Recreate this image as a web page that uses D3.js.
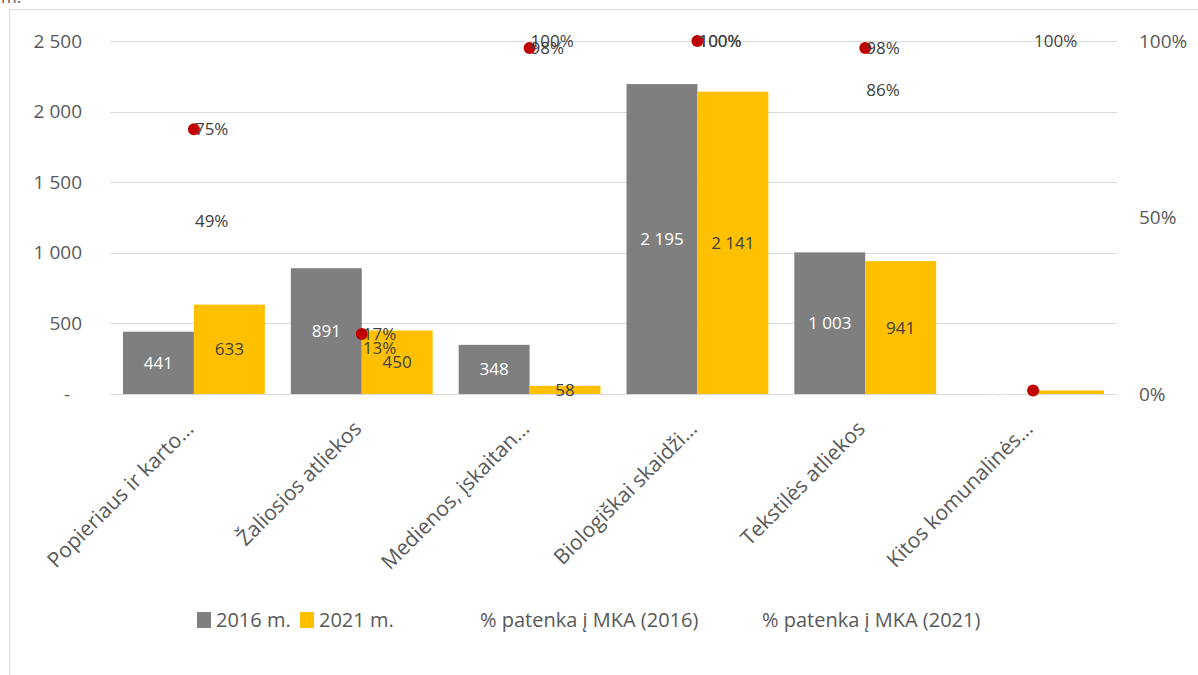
<!DOCTYPE html>
<html>
<head>
<meta charset="utf-8">
<script src="https://cdn.jsdelivr.net/npm/d3@7"></script>
<style>
  body { margin: 0; background: #fff; font-family: "Open Sans", "Noto Sans", sans-serif; }
  svg { display: block; }
</style>
</head>
<body>
<script>
// DATA
var categories = ["Popieriaus ir karto...", "Žaliosios atliekos", "Medienos, įskaitan...",
                  "Biologiškai skaidži...", "Tekstilės atliekos", "Kitos komunalinės..."];
var values2016 = [441, 891, 348, 2195, 1003, 0];
var values2021 = [633, 450, 58, 2141, 941, 25];
var pct2016 = [0.75, 0.17, 0.98, 1.00, 0.98, 0.01];
var pct2021 = [0.49, 0.13, 1.00, 1.00, 0.86, 1.00];
var yTicks = [0, 500, 1000, 1500, 2000, 2500];
var pctTicks = [0, 0.5, 1];
var seriesNames = ["2016 m.", "2021 m.", "% patenka į MKA (2016)", "% patenka į MKA (2021)"];

// STYLE
var GRAY = "#7f7f7f";
var YELLOW = "#ffc000";
var RED = "#c00000";
var TEXT = "#595959";

var width = 1198, height = 675;
var plotLeft = 110, plotRight = 1117, plotTop = 41, plotBottom = 394;

var svg = d3.select('body').append('svg')
    .attr('width', width)
    .attr('height', height);

// chart area border
svg.append('rect')
    .attr('x', 9.5).attr('y', 9.5)
    .attr('width', width + 20).attr('height', height + 20)
    .attr('fill', 'none')
    .attr('stroke', '#d9d9d9');

svg.append('text')
    .attr('x', 1).attr('y', 3)
    .attr('fill', TEXT)
    .style('font-size', '17px')
    .text('m.');

var x0 = d3.scaleBand()
    .domain(categories)
    .range([plotLeft, plotRight])
    .paddingInner(0.155)
    .paddingOuter(0.0775);

var x1 = d3.scaleBand()
    .domain([0, 1])
    .range([0, x0.bandwidth()]);

var y = d3.scaleLinear().domain([0, 2500]).range([plotBottom, plotTop]);
var yPct = d3.scaleLinear().domain([0, 1]).range([plotBottom, plotTop]);

var fmt = function(d) { return d3.format(",")(d).replace(/,/g, " "); };

// gridlines
svg.append('g')
  .selectAll('line')
  .data(yTicks)
  .enter().append('line')
    .attr('x1', plotLeft).attr('x2', plotRight)
    .attr('y1', function(d) { return Math.round(y(d)) + 0.5; })
    .attr('y2', function(d) { return Math.round(y(d)) + 0.5; })
    .attr('stroke', '#d9d9d9')
    .attr('stroke-width', 1);

// left axis
var yAxis = d3.axisLeft(y)
    .tickValues(yTicks)
    .tickSize(0)
    .tickPadding(0)
    .tickFormat(function(d) { return d === 0 ? "-" : fmt(d); });

var gLeft = svg.append('g')
    .attr('transform', 'translate(82,0)')
    .call(yAxis);
gLeft.select('.domain').remove();
gLeft.selectAll('text')
    .attr('fill', TEXT)
    .style('font-family', '"Open Sans", sans-serif')
    .style('font-size', '19px')
    .attr('dx', function(d) { return d === 0 ? -12 : 0; });

// right axis
var yAxisRight = d3.axisRight(yPct)
    .tickValues(pctTicks)
    .tickSize(0)
    .tickPadding(0)
    .tickFormat(d3.format(".0%"));

var gRight = svg.append('g')
    .attr('transform', 'translate(1139,0)')
    .call(yAxisRight);
gRight.select('.domain').remove();
gRight.selectAll('text')
    .attr('fill', TEXT)
    .style('font-family', '"Open Sans", sans-serif')
    .style('font-size', '19px');

// bars
var rows = categories.map(function(c, i) {
  return { cat: c, v: [values2016[i], values2021[i]], p: [pct2016[i], pct2021[i]] };
});

var groups = svg.append('g')
  .selectAll('g')
  .data(rows)
  .enter().append('g')
    .attr('transform', function(d) { return 'translate(' + x0(d.cat) + ',0)'; });

groups.selectAll('rect')
  .data(function(d) { return d.v; })
  .enter().append('rect')
    .attr('x', function(d, j) { return x1(j); })
    .attr('y', function(d) { return y(d); })
    .attr('width', x1.bandwidth())
    .attr('height', function(d) { return plotBottom - y(d); })
    .attr('fill', function(d, j) { return j === 0 ? GRAY : YELLOW; });

groups.selectAll('text.val')
  .data(function(d) { return d.v; })
  .enter().append('text')
    .filter(function(d) { return d > 0; })
    .attr('class', 'val')
    .attr('x', function(d, j) { return x1(j) + x1.bandwidth() / 2; })
    .attr('y', function(d) { return (y(d) + plotBottom) / 2; })
    .attr('dy', '0.35em')
    .attr('text-anchor', 'middle')
    .attr('fill', function(d, j) { return j === 0 ? "#ffffff" : "#404040"; })
    .style('font-size', '17px')
    .text(function(d) { return fmt(d); });

// percent series: red markers for 2016, labels for both
var cx = function(d) { return x0(d.cat) + x0.bandwidth() / 2; };

svg.append('g')
  .selectAll('circle')
  .data(rows)
  .enter().append('circle')
    .attr('cx', cx)
    .attr('cy', function(d) { return yPct(d.p[0]); })
    .attr('r', 6)
    .attr('fill', RED);

[1, 0].forEach(function(j) {
  svg.append('g')
    .selectAll('text')
    .data(rows.filter(function(d) { return d.v[j] > 0; }))
    .enter().append('text')
      .attr('x', function(d) { return cx(d) + 1; })
      .attr('y', function(d) { return yPct(d.p[j]); })
      .attr('dy', '0.35em')
      .attr('fill', "#404040")
      .style('font-size', '17px')
      .text(function(d) { return d3.format(".0%")(d.p[j]); });
});

// category labels
svg.append('g')
  .selectAll('text')
  .data(categories)
  .enter().append('text')
    .attr('transform', function(d) {
      return 'translate(' + (x0(d) + x0.bandwidth() / 2 + 1) + ',' + 430 + ') rotate(-45)';
    })
    .attr('text-anchor', 'end')
    .attr('fill', TEXT)
    .style('font-size', '21px')
    .text(function(d) { return d; });

// legend
var legendX = [197, 300, 480, 762];
var legend = svg.append('g')
  .selectAll('g')
  .data(seriesNames)
  .enter().append('g')
    .attr('transform', function(d, i) { return 'translate(' + legendX[i] + ',620)'; });

legend.filter(function(d, i) { return i < 2; })
  .append('rect')
    .attr('x', 0).attr('y', -8)
    .attr('width', 14).attr('height', 16)
    .attr('fill', function(d, i) { return i === 0 ? GRAY : YELLOW; });

legend.append('text')
    .attr('x', function(d, i) { return i < 2 ? 19 : 0; })
    .attr('dy', '0.35em')
    .attr('fill', TEXT)
    .style('font-size', '20px')
    .text(function(d) { return d; });
</script>
</body>
</html>
